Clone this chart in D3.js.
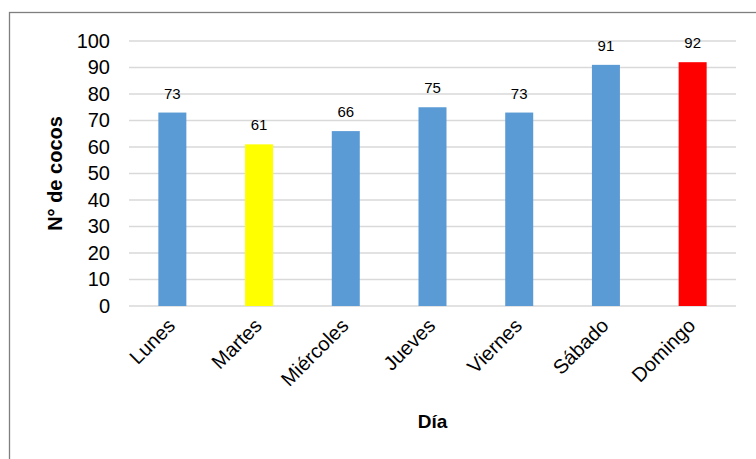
<!DOCTYPE html>
<html>
<head>
<meta charset="utf-8">
<script src="https://cdn.jsdelivr.net/npm/d3@7"></script>
<style>
  body { margin: 0; background: #fff; }
  svg { display: block; font-family: Arial, "Liberation Sans", sans-serif; }
</style>
</head>
<body>
<svg width="756" height="459"></svg>
<script>
// datos
const dias = ['Lunes', 'Martes', 'Miércoles', 'Jueves', 'Viernes', 'Sábado', 'Domingo'];
const cocos = [73, 61, 66, 75, 73, 91, 92];
const colores = ['#5b9bd5', '#ffff00', '#5b9bd5', '#5b9bd5', '#5b9bd5', '#5b9bd5', '#ff0000'];
const yTicks = [0, 10, 20, 30, 40, 50, 60, 70, 80, 90, 100];

const svg = d3.select('svg');

// borde del grafico
svg.append('rect')
    .attr('x', 9.5).attr('y', 12.5)
    .attr('width', 800).attr('height', 500)
    .attr('fill', 'none')
    .attr('stroke', '#7f7f7f')
    .attr('stroke-width', 1.3);

const plotLeft = 129, plotRight = 736, plotTop = 41, plotBottom = 306;

const xScale = d3.scaleBand().domain(dias).range([plotLeft, plotRight]);
const yScale = d3.scaleLinear().domain([0, 100]).range([plotBottom, plotTop]);
const barW = 28;

// lineas de cuadricula
svg.append('g')
    .selectAll('line')
    .data(yTicks)
    .enter()
    .append('line')
    .attr('x1', plotLeft).attr('x2', plotRight)
    .attr('y1', d => yScale(d)).attr('y2', d => yScale(d))
    .attr('stroke', '#d9d9d9')
    .attr('stroke-width', 1.5);

// eje y
const yAxis = svg.append('g')
    .attr('transform', `translate(${plotLeft - 19},0)`)
    .call(d3.axisLeft(yScale).tickValues(yTicks).tickSize(0).tickPadding(0));
yAxis.select('.domain').remove();
yAxis.selectAll('text')
    .attr('font-size', 20)
    .attr('font-family', 'Arial, "Liberation Sans", sans-serif')
    .attr('fill', '#000');

// barras
svg.selectAll('.bar')
    .data(cocos)
    .enter()
    .append('rect')
    .classed('bar', true)
    .attr('x', (d, i) => xScale(dias[i]) + xScale.bandwidth() / 2 - barW / 2)
    .attr('width', barW)
    .attr('y', d => yScale(d))
    .attr('height', d => plotBottom - yScale(d))
    .attr('fill', (d, i) => colores[i]);

// etiquetas de datos
svg.selectAll('.lbl')
    .data(cocos)
    .enter()
    .append('text')
    .classed('lbl', true)
    .attr('x', (d, i) => xScale(dias[i]) + xScale.bandwidth() / 2)
    .attr('y', d => yScale(d) - 14)
    .attr('text-anchor', 'middle')
    .attr('font-size', 15)
    .attr('fill', '#000')
    .text(d => d);

// eje x
const xAxis = svg.append('g')
    .attr('transform', `translate(0,${plotBottom})`)
    .call(d3.axisBottom(xScale).tickSize(0).tickPadding(0));
xAxis.select('.domain').remove();
xAxis.selectAll('text')
    .attr('font-size', 20)
    .attr('font-family', 'Arial, "Liberation Sans", sans-serif')
    .attr('fill', '#000')
    .attr('text-anchor', 'end')
    .attr('dy', 0)
    .attr('transform', 'translate(4,21) rotate(-45)');

// titulos de ejes
svg.append('text')
    .attr('transform', `translate(62,${(plotTop + plotBottom) / 2}) rotate(-90)`)
    .attr('text-anchor', 'middle')
    .attr('font-size', 20)
    .attr('font-weight', 'bold')
    .text('N° de cocos');

svg.append('text')
    .attr('x', (plotLeft + plotRight) / 2)
    .attr('y', 428)
    .attr('text-anchor', 'middle')
    .attr('font-size', 19)
    .attr('font-weight', 'bold')
    .text('Día');
</script>
</body>
</html>
